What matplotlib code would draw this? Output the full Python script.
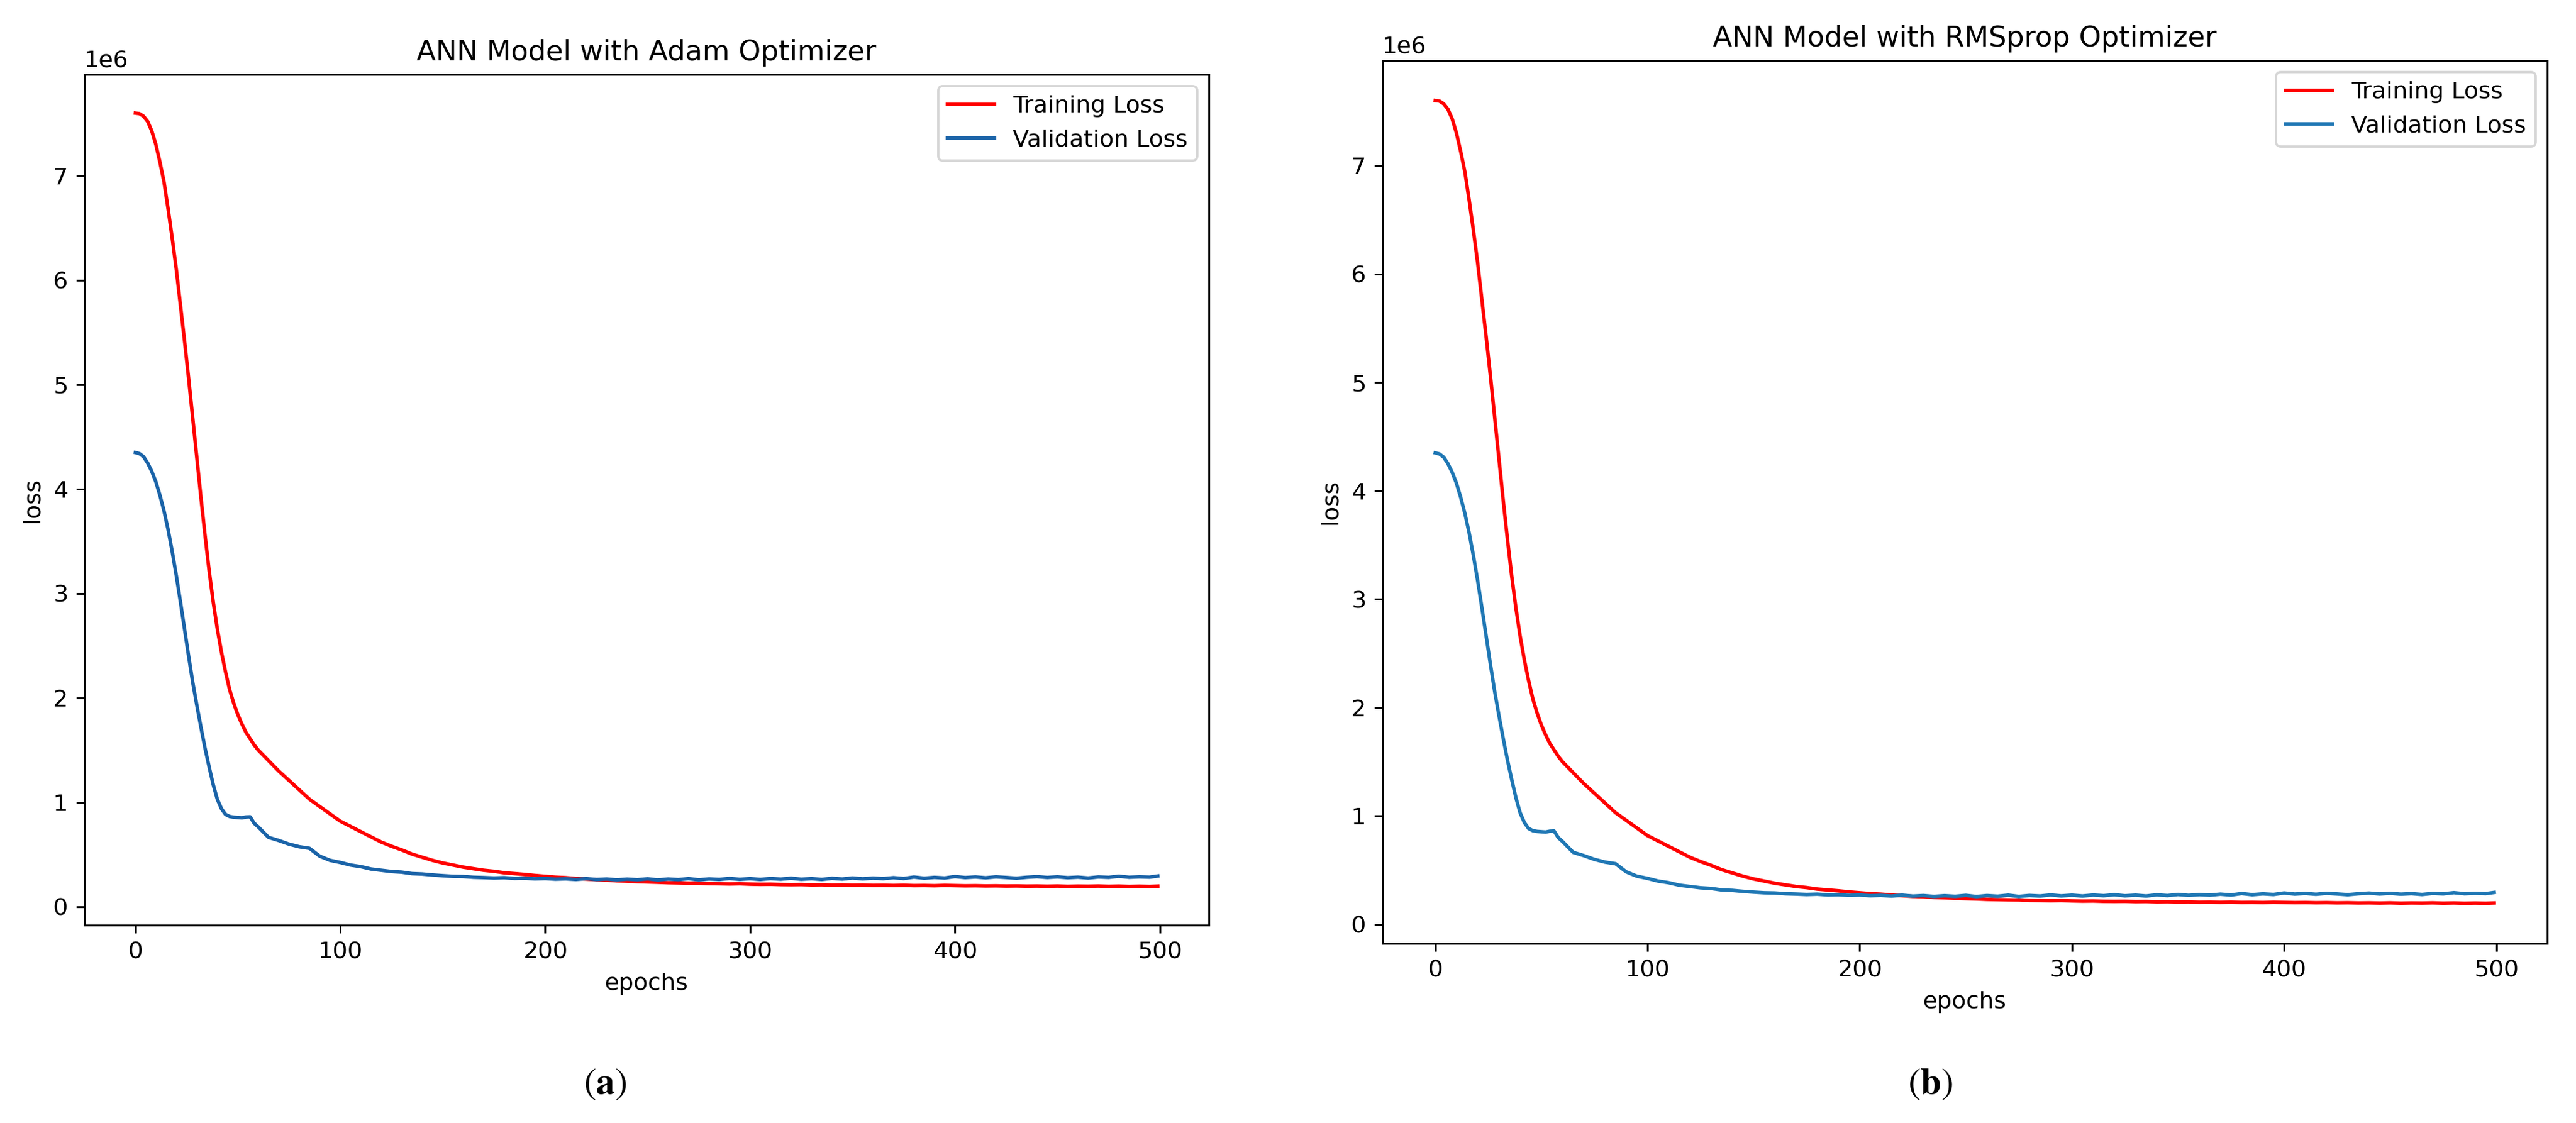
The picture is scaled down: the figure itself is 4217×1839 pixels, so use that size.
import matplotlib
matplotlib.use('Agg')
import matplotlib.pyplot as plt

# epoche: ogni 2 fino a 60, poi ogni 5 (piu' l'ultima)
epochs = list(range(0, 61, 2)) + list(range(65, 500, 5)) + [499]

# valori (unita' 1e6)
adam_train_loss = [
    7.60, 7.595, 7.57, 7.52, 7.43, 7.30, 7.13, 6.94, 6.68, 6.40,
    6.10, 5.76, 5.42, 5.06, 4.68, 4.30, 3.92, 3.56, 3.22, 2.92,
    2.66, 2.44, 2.25, 2.08, 1.95, 1.84, 1.75, 1.67, 1.61, 1.55,
    1.50,
    1.40, 1.30, 1.21, 1.12, 1.03, 0.96, 0.89,
    0.82, 0.77, 0.72, 0.67, 0.62, 0.58, 0.545, 0.505, 0.475, 0.445,
    0.42, 0.40, 0.38, 0.365, 0.35, 0.34, 0.326, 0.318, 0.31, 0.30,
    0.292, 0.284, 0.279, 0.271, 0.266, 0.259, 0.256, 0.249, 0.246, 0.241,
    0.238, 0.235, 0.231, 0.229, 0.227, 0.226, 0.222, 0.221, 0.219, 0.221,
    0.217, 0.215, 0.216, 0.213, 0.212, 0.213, 0.210, 0.211, 0.208, 0.209,
    0.207, 0.208, 0.205, 0.206, 0.204, 0.206, 0.203, 0.204, 0.202, 0.205,
    0.203, 0.201, 0.202, 0.200, 0.201, 0.199, 0.200, 0.198, 0.199, 0.197,
    0.199, 0.196, 0.198, 0.197, 0.199, 0.196, 0.198, 0.195, 0.197, 0.195,
    0.198,
]

adam_val_loss = [
    4.35, 4.34, 4.31, 4.25, 4.17, 4.07, 3.94, 3.79, 3.61, 3.40,
    3.17, 2.92, 2.66, 2.40, 2.15, 1.93, 1.72, 1.52, 1.34, 1.17,
    1.03, 0.94, 0.885, 0.865, 0.858, 0.855, 0.852, 0.860, 0.862, 0.80,
    0.765,
    0.665, 0.635, 0.600, 0.575, 0.560, 0.485, 0.445,
    0.425, 0.400, 0.385, 0.362, 0.350, 0.338, 0.332, 0.318, 0.314, 0.305,
    0.298, 0.292, 0.290, 0.283, 0.280, 0.276, 0.279, 0.272, 0.274, 0.268,
    0.271, 0.265, 0.268, 0.262, 0.270, 0.261, 0.266, 0.258, 0.265, 0.259,
    0.268, 0.257, 0.266, 0.260, 0.270, 0.258, 0.267, 0.262, 0.272, 0.263,
    0.270, 0.262, 0.271, 0.265, 0.274, 0.264, 0.270, 0.262, 0.273, 0.266,
    0.276, 0.268, 0.275, 0.270, 0.279, 0.271, 0.285, 0.274, 0.282, 0.276,
    0.290, 0.280, 0.286, 0.278, 0.287, 0.281, 0.274, 0.283, 0.289, 0.281,
    0.287, 0.279, 0.284, 0.276, 0.286, 0.282, 0.293, 0.283, 0.287, 0.284,
    0.295,
]

# le curve RMSprop nel grafico coincidono con quelle Adam
rmsprop_train_loss = list(adam_train_loss)
rmsprop_val_loss = list(adam_val_loss)

titles = ['ANN Model with Adam Optimizer', 'ANN Model with RMSprop Optimizer']
captions = ['a', 'b']


def scale(values):
    return [v * 1e6 for v in values]


def draw_panel(ax, train, val, title, val_color):
    ax.plot(epochs, scale(train), color='red', label='Training Loss')
    ax.plot(epochs, scale(val), color=val_color, label='Validation Loss')
    ax.set_title(title)
    ax.set_xlabel('epochs')
    ax.set_ylabel('loss')
    ax.legend(loc='upper right')


def main():
    plt.rcParams['mathtext.fontset'] = 'stix'
    fig = plt.figure(figsize=(4217 / 276, 1839 / 276), dpi=276)

    ax1 = fig.add_axes([0.0327, 0.1762, 0.4366, 0.7575])
    ax2 = fig.add_axes([0.5366, 0.1599, 0.4522, 0.7863])

    draw_panel(ax1, adam_train_loss, adam_val_loss, titles[0], '#1a63a8')
    draw_panel(ax2, rmsprop_train_loss, rmsprop_val_loss, titles[1], '#1f77b4')

    # didascalie (a) e (b)
    for x, c in zip([990 / 4217, 3160 / 4217], captions):
        fig.text(x, 1 - 1776 / 1839, r'($\mathbf{' + c + '}$)', family='STIXGeneral',
                 fontsize=16, ha='center', va='center')

    fig.savefig('out.png', dpi=276)


if __name__ == '__main__':
    main()
